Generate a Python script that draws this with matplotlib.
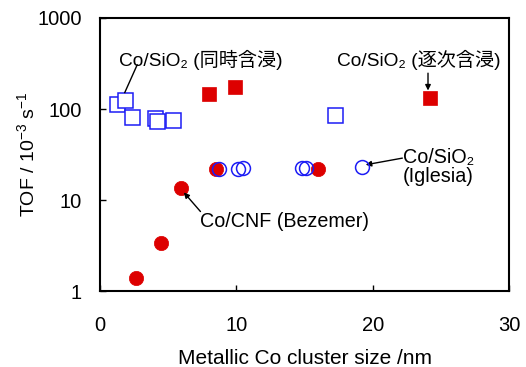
import numpy as np
import matplotlib
matplotlib.use('Agg')
import matplotlib.pyplot as plt

plt.rcParams['font.family'] = ['Liberation Sans', 'DejaVu Sans', 'Noto Sans CJK JP']
plt.rcParams['mathtext.fontset'] = 'custom'
plt.rcParams['mathtext.rm'] = 'Liberation Sans'
plt.rcParams['mathtext.default'] = 'regular'

# Co/SiO2 co-impregnation (open blue squares)
sq_open_x = [1.28, 1.82, 2.33, 4.06, 4.15, 5.39, 17.2]
sq_open_y = [115, 125, 82, 79.6, 73.8, 75.9, 86.6]
# Co/SiO2 sequential impregnation (filled red squares)
sq_fill_x = [7.98, 9.92, 24.17]
sq_fill_y = [145, 173, 131]
# Co/CNF Bezemer (filled red circles)
ci_fill_x = [2.64, 4.44, 5.94, 8.53, 16.0]
ci_fill_y = [1.40, 3.41, 13.7, 22.2, 22.2]
# Co/SiO2 Iglesia (open blue circles)
ci_open_x = [8.72, 10.12, 10.49, 14.84, 15.13, 19.24]
ci_open_y = [22.2, 22.3, 22.5, 22.5, 22.8, 23.4]

red = '#dd0000'
blue = '#1c1cf5'
fs_ann = 14.2
fs_tick = 14.5

fig = plt.figure(figsize=(5.26, 3.67), dpi=100)
ax = fig.add_axes([0.190, 0.206, 0.778, 0.745])

ax.plot(ci_fill_x, ci_fill_y, 'o', ms=10.3, mfc=red, mec=red, mew=0.5, ls='none', zorder=3)
ax.plot(ci_open_x, ci_open_y, 'o', ms=10, mfc='none', mec=blue, mew=1.1, ls='none', zorder=4)
ax.plot(sq_open_x, sq_open_y, 's', ms=10.8, mfc='white', mec=blue, mew=1.1, ls='none', zorder=3)
ax.plot(sq_fill_x, sq_fill_y, 's', ms=10.2, mfc=red, mec=red, mew=0.5, ls='none', zorder=3)

ax.set_yscale('log')
ax.set_xlim(0, 30)
ax.set_ylim(1, 1000)
ax.set_xticks([0, 10, 20, 30])
ax.set_yticks([1, 10, 100, 1000])
ax.set_yticklabels(['1', '10', '100', '1000'])
ax.minorticks_off()
ax.tick_params(axis='x', direction='in', length=4, width=1, pad=18, labelsize=fs_tick)
ax.tick_params(axis='y', direction='in', length=4, width=1, pad=13, labelsize=fs_tick)
for s in ax.spines.values():
    s.set_linewidth(1.5)

ax.set_xlabel('Metallic Co cluster size /nm', fontsize=15, labelpad=9.5)
ax.set_ylabel('TOF / 10$^{-3}$ s$^{-1}$', fontsize=14)
ax.yaxis.set_label_coords(-0.15, 0.5)

arrow = dict(arrowstyle='-|>', color='black', lw=1, mutation_scale=8, shrinkA=0, shrinkB=0)

ax.text(1.43, 348, 'Co/SiO₂ (同時含浸)', fontsize=13.8, ha='left', va='center')
ax.plot([2.73, 1.82], [306, 152], color='black', lw=1, zorder=5)

ax.text(17.4, 348, 'Co/SiO₂ (逐次含浸)', fontsize=13.8, ha='left', va='center')
ax.annotate('', xy=(24.05, 160), xytext=(24.05, 248), arrowprops=arrow)

ax.text(22.2, 23, 'Co/SiO₂\n(Iglesia)', fontsize=fs_ann, ha='left', va='center',
        linespacing=1.0)
ax.annotate('', xy=(19.48, 24.5), xytext=(22.17, 29.0), arrowprops=arrow)

ax.text(7.35, 5.84, 'Co/CNF (Bezemer)', fontsize=fs_ann, ha='left', va='center')
ax.annotate('', xy=(6.15, 12.2), xytext=(7.37, 7.52), arrowprops=arrow)

fig.savefig('out.png', dpi=100)
